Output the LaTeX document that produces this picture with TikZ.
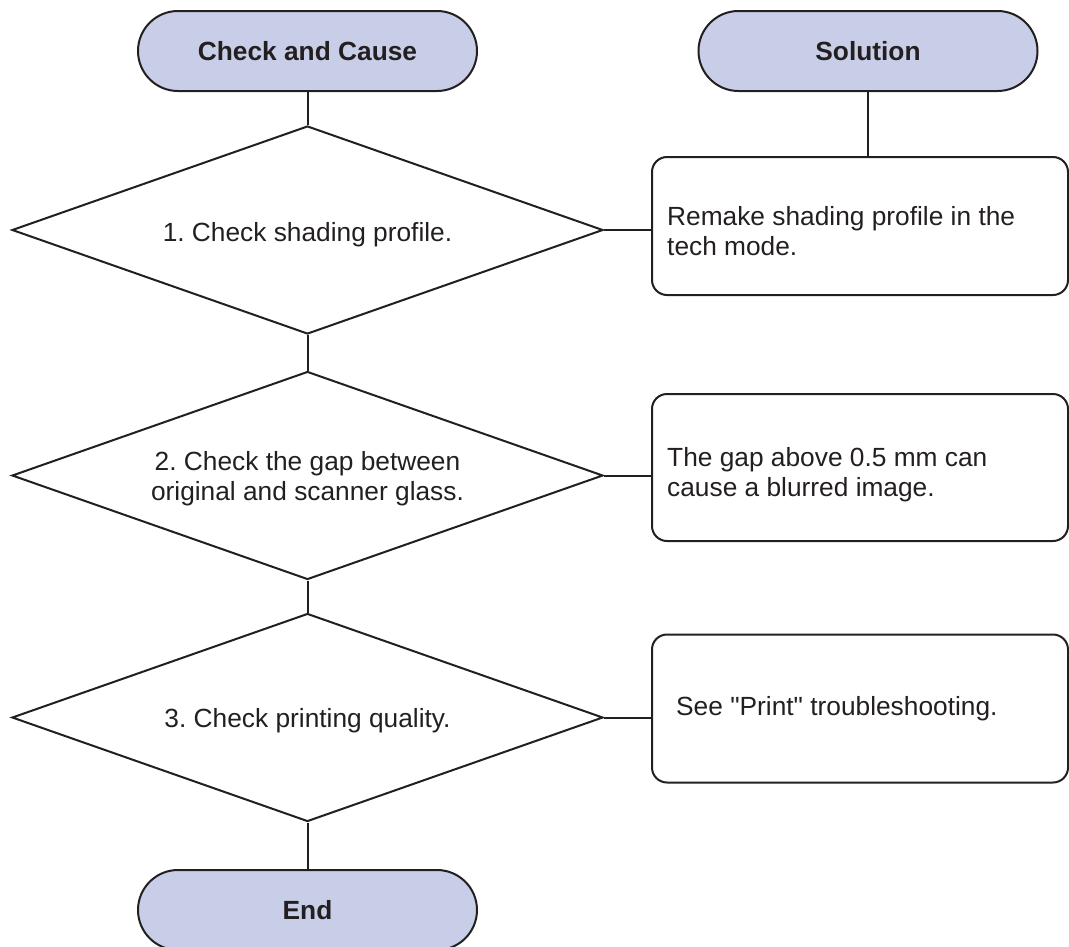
\documentclass[tikz,border=0pt]{standalone}
\usepackage{fontspec}
\setmainfont{Liberation Sans}
\usetikzlibrary{shapes.geometric}
\definecolor{pillfill}{RGB}{201,206,232}
\definecolor{ink}{RGB}{35,31,32}
\frenchspacing
\begin{document}
\begin{tikzpicture}[x=1pt,y=-1pt,
  every node/.style={font=\fontsize{26.3}{30}\selectfont, text=ink},
  pill/.style={draw=ink, line width=2pt, fill=pillfill, rounded corners=40pt,
    minimum width=339pt, minimum height=80pt,
    font=\fontsize{26.3}{30}\selectfont\bfseries, inner sep=0pt},
  decision/.style={draw=ink, line width=2pt, diamond, aspect=2.84,
    minimum width=591pt, minimum height=208pt, inner sep=0pt},
  solbox/.style={draw=ink, line width=2pt, rounded corners=15pt,
    minimum width=416pt, inner sep=0pt},
  dtext/.style={align=center, inner sep=0pt},
  btext/.style={align=left, anchor=west, inner sep=0pt},
  link/.style={draw=ink, line width=2pt}]
\useasboundingbox (0,0) rectangle (1069,946);
\node[pill] (cc) at (307.5,51) {Check and Cause};
\node[pill] (sol) at (868,51) {Solution};
\node[decision] (d1) at (307.5,230) {};
\node[decision] (d2) at (307.5,475.5) {};
\node[decision] (d3) at (307.5,717.5) {};
\node[pill] (end) at (307.5,910) {End};
\node[dtext] (d1t) at (307.5,235) {1. Check shading profile.};
\node[dtext] (d2t) at (307.5,479) {2. Check the gap between\\original and scanner glass.};
\node[dtext] (d3t) at (307.5,721) {3. Check printing quality.};
\node[solbox, minimum height=138pt] (s1) at (860,226) {};
\node[solbox, minimum height=147pt] (s2) at (860,467.5) {};
\node[solbox, minimum height=148pt] (s3) at (860,708.5) {};
\node[btext] (s1t) at (667,231) {Remake shading profile in the\\tech mode.};
\node[btext] (s2t) at (667,475) {The gap above 0.5 mm can\\cause a blurred image.};
\node[btext] (s3t) at (676,709) {See \textquotedbl Print\textquotedbl\ troubleshooting.};
\draw[link] (cc) -- (d1);
\draw[link] (d1) -- (d2);
\draw[link] (d2) -- (d3);
\draw[link] (d3) -- (end);
\draw[link] (sol.south) -- (sol.south |- s1.north);
\draw[link] (d1.east) -- (s1.west |- d1.east);
\draw[link] (d2.east) -- (s2.west |- d2.east);
\draw[link] (d3.east) -- (s3.west |- d3.east);
\end{tikzpicture}
\end{document}
